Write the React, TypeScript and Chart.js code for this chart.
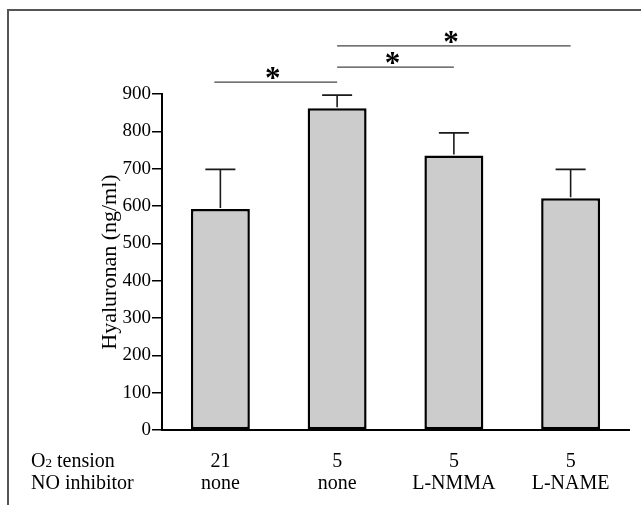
import React, { useEffect, useRef } from 'react';
import { Chart, registerables } from 'chart.js';

Chart.register(...registerables);

// ---- data ----
const o2Tension = ['21', '5', '5', '5'];
const noInhibitor = ['none', 'none', 'L-NMMA', 'L-NAME'];
const hyaluronan = [592, 862, 735, 621];
const errorTop = [698, 897, 796, 698];
const yMin = 0;
const yMax = 900;
const yStep = 100;
const rowLabelO2 = ['O', '2', ' tension'];
const rowLabelNO = 'NO inhibitor';
const yTitle = 'Hyaluronan (ng/ml)';
// significance brackets: from category, to category, height (in ng/ml units)
const sigFrom = [0, 1, 1];
const sigTo = [1, 2, 3];
const sigLevel = [932, 972, 1029];
const sigMark = '*';

const SERIF = '"Liberation Serif", "Times New Roman", serif';

const overlayPlugin = {
  id: 'overlay',
  afterDatasetsDraw(chart: any) {
    const { ctx, scales } = chart;
    const xs = scales.x;
    const ys = scales.y;
    ctx.save();
    // error bars
    ctx.strokeStyle = '#1a1a1a';
    ctx.lineWidth = 1.6;
    for (let i = 0; i < hyaluronan.length; i++) {
      const x = xs.getPixelForValue(i);
      const y0 = ys.getPixelForValue(hyaluronan[i]);
      const y1 = ys.getPixelForValue(errorTop[i]);
      ctx.beginPath();
      ctx.moveTo(x, y0 - 1);
      ctx.lineTo(x, y1);
      ctx.moveTo(x - 15, y1);
      ctx.lineTo(x + 15, y1);
      ctx.stroke();
    }
    ctx.restore();
  },
  afterDraw(chart: any) {
    const { ctx, scales, chartArea } = chart;
    const xs = scales.x;
    const ys = scales.y;
    ctx.save();
    // significance lines
    ctx.strokeStyle = '#444';
    ctx.lineWidth = 1.3;
    ctx.fillStyle = '#000';
    ctx.textAlign = 'center';
    ctx.textBaseline = 'alphabetic';
    for (let k = 0; k < sigFrom.length; k++) {
      const xa = xs.getPixelForValue(sigFrom[k]) - (k === 0 ? 6 : 0);
      const xb = xs.getPixelForValue(sigTo[k]);
      const y = ys.getPixelForValue(sigLevel[k]);
      ctx.beginPath();
      ctx.moveTo(xa, y);
      ctx.lineTo(xb, y);
      ctx.stroke();
      ctx.font = `bold 31px ${SERIF}`;
      ctx.fillText(sigMark, (xa + xb) / 2 - 3, y + 6);
    }
    // row labels
    const base1 = chartArea.bottom + 37;
    const base2 = chartArea.bottom + 59;
    ctx.textAlign = 'left';
    ctx.font = `20px ${SERIF}`;
    let x = 31;
    ctx.fillText(rowLabelO2[0], x, base1);
    x += ctx.measureText(rowLabelO2[0]).width;
    ctx.font = `13px ${SERIF}`;
    ctx.fillText(rowLabelO2[1], x, base1);
    x += ctx.measureText(rowLabelO2[1]).width;
    ctx.font = `20px ${SERIF}`;
    ctx.fillText(rowLabelO2[2], x, base1);
    ctx.fillText(rowLabelNO, 31, base2);
    // outer frame
    ctx.strokeStyle = '#555';
    ctx.lineWidth = 2;
    ctx.beginPath();
    ctx.moveTo(8, chart.height);
    ctx.lineTo(8, 10);
    ctx.lineTo(chart.width, 10);
    ctx.stroke();
    ctx.restore();
  },
};

export default function App() {
  const ref = useRef<HTMLCanvasElement | null>(null);
  useEffect(() => {
    if (!ref.current) return;
    const chart = new Chart(ref.current, {
      type: 'bar',
      data: {
        labels: o2Tension.map((v, i) => [v, noInhibitor[i]]),
        datasets: [
          {
            data: hyaluronan,
            backgroundColor: '#cccccc',
            borderColor: '#000',
            borderWidth: 2.5,
            borderSkipped: false,
            categoryPercentage: 1,
            barPercentage: 0.505,
          },
        ],
      },
      options: {
        animation: false,
        responsive: true,
        maintainAspectRatio: false,
        layout: { padding: { top: 94, right: 12, left: 0, bottom: 0 } },
        plugins: { legend: { display: false }, tooltip: { enabled: false } },
        scales: {
          x: {
            grid: { display: false, drawTicks: false },
            border: { display: true, color: '#000', width: 2 },
            ticks: {
              color: '#000',
              font: { family: SERIF, size: 20, lineHeight: 1.1 },
              padding: 21,
              maxRotation: 0,
              autoSkip: false,
            },
            afterFit(scale: any) {
              scale.height = 75;
            },
          },
          y: {
            min: yMin,
            max: yMax,
            grid: { drawOnChartArea: false, drawTicks: true, tickLength: 10, color: '#000', lineWidth: 1.5 },
            border: { display: true, color: '#000', width: 2 },
            ticks: {
              stepSize: yStep,
              color: '#000',
              font: { family: SERIF, size: 19 },
              padding: 1,
            },
            title: {
              display: true,
              text: yTitle,
              color: '#000',
              font: { family: SERIF, size: 22, lineHeight: 1.2 },
              padding: { top: 97, bottom: 0 },
            },
            afterFit(scale: any) {
              scale.width = 162;
            },
          },
        },
      },
      plugins: [overlayPlugin],
    });
    return () => chart.destroy();
  }, []);
  return (
    <div style={{ position: 'absolute', left: 0, top: 0, width: 641, height: 505, background: '#fff' }}>
      <canvas ref={ref} />
    </div>
  );
}
